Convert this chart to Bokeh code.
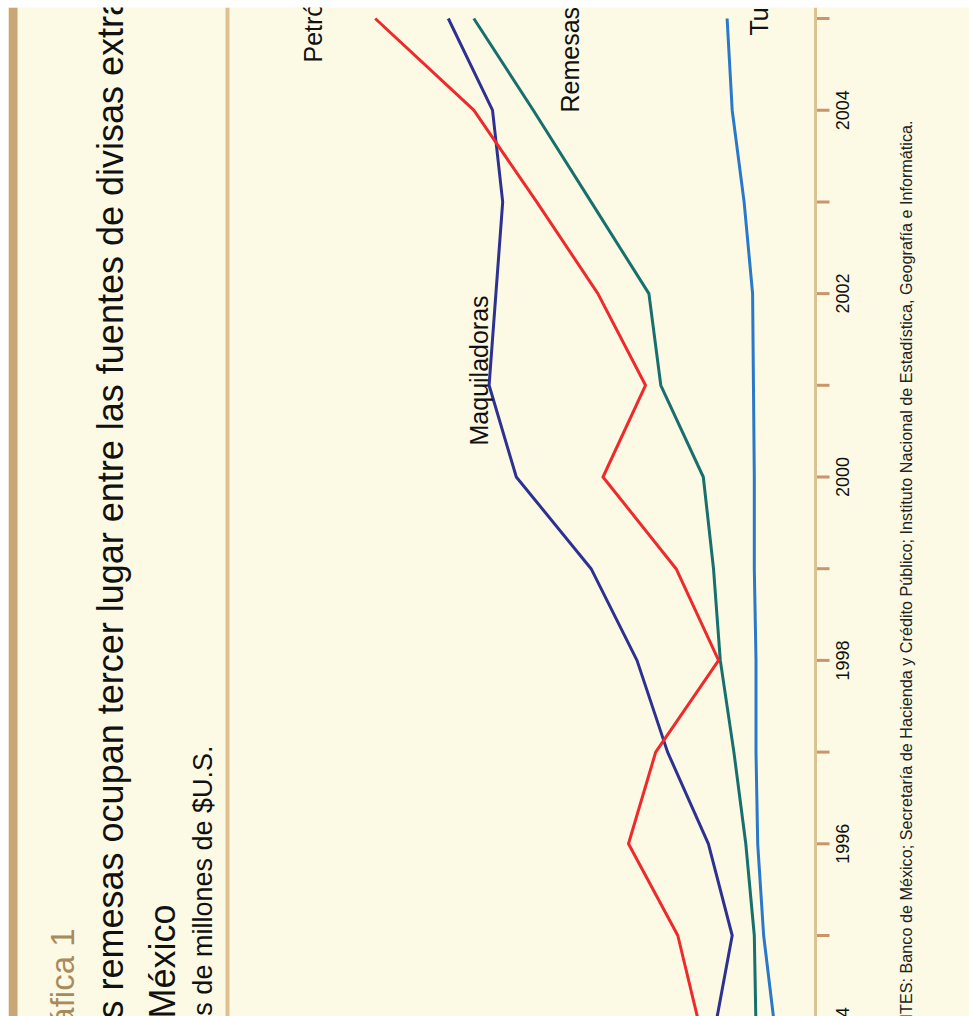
import math
from bokeh.plotting import figure
from bokeh.models import Range1d, Label, Span, BoxAnnotation
from bokeh.core.properties import value
from bokeh.embed import file_html
from bokeh.resources import INLINE

# ---------------- data (miles de millones de dólares) ----------------
years = [1994, 1995, 1996, 1997, 1998, 1999, 2000, 2001, 2002, 2003, 2004, 2005]
petroleo = [6.8, 8.1, 11.0, 9.4, 5.7, 8.2, 12.5, 10.0, 12.8, 16.4, 20.1, 25.9]
maquiladoras = [5.9, 4.9, 6.3, 8.7, 10.5, 13.2, 17.6, 19.2, 18.8, 18.4, 19.0, 21.6]
remesas = [3.5, 3.6, 4.1, 4.8, 5.6, 6.0, 6.6, 9.1, 9.8, 13.2, 16.6, 20.1]
turismo = [2.4, 3.05, 3.4, 3.5, 3.5, 3.6, 3.6, 3.65, 3.7, 4.2, 4.9, 5.2]
label_years = [1994, 1996, 1998, 2000, 2002, 2004]
tick_labels = ["1994", "1996", "1998", "2000", "2002", "2004"]

title_kicker = "Gráfica 1"
title_line1 = "Las remesas ocupan tercer lugar entre las fuentes de divisas extranjeras"
title_line2 = "México"
units_text = "Miles de millones de $U.S."
source_text = ("FUENTES: Banco de México; Secretaría de Hacienda y Crédito Público; "
               "Instituto Nacional de Estadística, Geografía e Informática.")

# ---------------- style ----------------
BG = "#FCFAE4"
RED = "#EE2A2C"
NAVY = "#2E3192"
TEAL = "#17706D"
SKY = "#2A78C9"
TAN_DARK = "#C8A676"
TAN_LIGHT = "#DDC193"
TICK = "#C9956B"
SANS = "Liberation Sans"

PX = 17.0        # pixels per unit of value (values grow leftwards)
PY = 91.7        # pixels per year
ZERO_X = 815     # pixel of value 0

def vx(px):
    return (ZERO_X - px) / PX

def vy(py):
    return 2005 + (18 - py) / PY

W, H = 969, 1016
LEFT, TOP = 8, 7

p = figure(width=W, height=H,
           x_range=Range1d(vx(LEFT), vx(W)), y_range=Range1d(vy(H), vy(TOP)),
           x_axis_location=None, y_axis_location=None,
           toolbar_location=None, output_backend="svg",
           min_border_left=LEFT, min_border_right=0,
           min_border_top=TOP, min_border_bottom=0)
p.background_fill_color = BG
p.border_fill_color = "white"
p.outline_line_color = None
p.grid.visible = False

# decorations
p.add_layout(BoxAnnotation(left=vx(8), right=vx(17), fill_color=TAN_DARK,
                           fill_alpha=1, line_color=None))
p.add_layout(Span(location=vx(227), dimension="height",
                  line_color=TAN_LIGHT, line_width=4))

# year axis (value 0 baseline) with ticks and labels
p.add_layout(Span(location=0, dimension="height", line_color=TAN_LIGHT, line_width=3))
tick_len = 14 / PX
p.segment(x0=[0] * len(years), x1=[-tick_len] * len(years), y0=years, y1=years,
          line_color=TICK, line_width=3)
p.text(x=[vx(835)] * len(label_years), y=label_years, text=tick_labels,
       angle=math.pi / 2, text_align="center", text_baseline="top",
       text_font=value(SANS), text_font_size="18px", text_color="#111111")

# series
for vals, col in [(turismo, SKY), (remesas, TEAL), (maquiladoras, NAVY), (petroleo, RED)]:
    p.line(vals, years, line_color=col, line_width=3, line_join="round")

# series labels
for name, px, py in [("Petróleo", 312, 62), ("Remesas", 569, 112),
                     ("Maquiladoras", 478, 445), ("Turismo", 758, 35)]:
    p.add_layout(Label(x=vx(px), y=vy(py), text=name, angle=math.pi / 2,
                       text_align="left", text_baseline="alphabetic",
                       text_font=SANS, text_font_size="25px",
                       text_color="#111111"))

# title block
p.add_layout(Label(x=vx(62), y=vy(928), text=title_kicker, angle=math.pi / 2,
                   text_align="right", text_baseline="alphabetic",
                   text_font=SANS, text_font_size="33px", text_color="#A88B5C"))
p.add_layout(Label(x=vx(110), y=vy(1058), text=title_line1, angle=math.pi / 2,
                   text_align="left", text_baseline="alphabetic",
                   text_font=SANS, text_font_size="36px", text_color="#111111"))
p.add_layout(Label(x=vx(162), y=vy(1018), text=title_line2, angle=math.pi / 2,
                   text_align="left", text_baseline="alphabetic",
                   text_font=SANS, text_font_size="36px", text_color="#111111"))
p.add_layout(Label(x=vx(202), y=vy(745), text=units_text, angle=math.pi / 2,
                   text_align="right", text_baseline="alphabetic",
                   text_font=SANS, text_font_size="27px", text_color="#111111"))
p.add_layout(Label(x=vx(905), y=vy(120), text=source_text, angle=math.pi / 2,
                   text_align="right", text_baseline="alphabetic",
                   text_font=SANS, text_font_size="16.2px", text_color="#222222"))

open("out.html", "w").write(file_html(p, INLINE))
